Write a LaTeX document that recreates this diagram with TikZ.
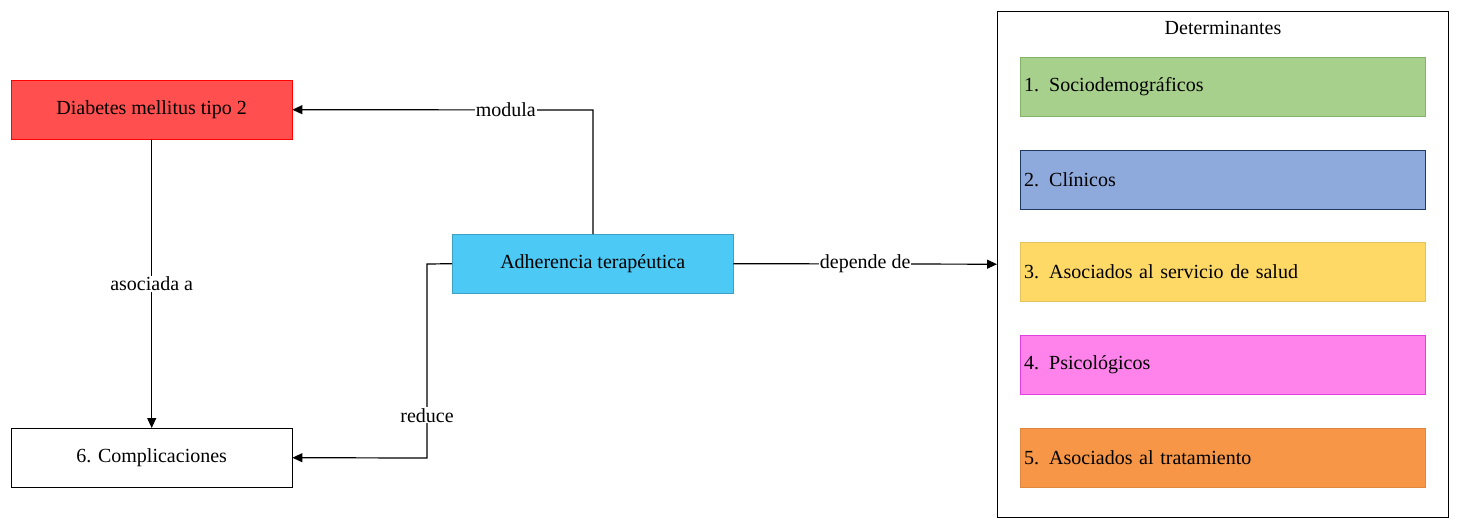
\documentclass[tikz,border=0pt]{standalone}
\usepackage{fontspec}
\setmainfont{Liberation Serif}
\usetikzlibrary{arrows.meta}
\definecolor{cred}{HTML}{FF4F4F}
\definecolor{cblue}{HTML}{4DC9F5}
\definecolor{cgreen}{HTML}{A8D08D}
\definecolor{cgreenb}{HTML}{82B366}
\definecolor{cblu2}{HTML}{8EA9DB}
\definecolor{cblu2b}{HTML}{1F3864}
\definecolor{cyel}{HTML}{FFD966}
\definecolor{cpink}{HTML}{FF83EA}
\definecolor{cpinkb}{HTML}{E040E0}
\definecolor{corg}{HTML}{F79646}
\begin{document}
\begin{tikzpicture}[x=1pt,y=-1pt,font=\fontsize{20}{24}\selectfont,
 box/.style={draw,minimum width=281pt,minimum height=59pt,inner sep=0pt,anchor=north west},
 det/.style={draw,minimum width=405pt,minimum height=59pt,inner sep=0pt,anchor=north west,text width=397pt,align=left},
 arr/.style={-{Triangle[length=10pt,width=9pt]},line width=1.2pt},
 lab/.style={fill=white,inner sep=1pt}]
\useasboundingbox (0,0) rectangle (1459,528);
\node[box,fill=cred,draw=red] (dm) at (11,80) {Diabetes mellitus tipo 2};
\node[box] (comp) at (11,428) {6. Complicaciones};
\node[box,fill=cblue,draw=cblue!80!black] (adh) at (452,234) {Adherencia terapéutica};
\node[draw,minimum width=451pt,minimum height=506pt,anchor=north west,inner sep=0pt] (cont) at (997,11) {};
\node (title) at (1223,28) {Determinantes};
\node[det,fill=cgreen,draw=cgreenb] (d1) at (1020,57) {1. Sociodemográficos};
\node[det,fill=cblu2,draw=cblu2b] (d2) at (1020,150) {2. Clínicos};
\node[det,fill=cyel,draw=cyel!90!black] (d3) at (1020,242) {3. Asociados al servicio de salud};
\node[det,fill=cpink,draw=cpinkb] (d4) at (1020,335) {4. Psicológicos};
\node[det,fill=corg,draw=corg!90!black] (d5) at (1020,428) {5. Asociados al tratamiento};
\coordinate (a1) at (593,110);
\coordinate (a2) at (427,264);
\coordinate (a3) at (427,458);
\draw[arr] (adh.north -| a1) -- (a1) -- node[lab,pos=0.29]{modula} (dm.east);
\draw[arr] (dm.south) -- node[lab,pos=0.5]{asociada a} (comp.north);
\draw[arr] (adh.west) -- (a2) -- node[lab,pos=0.78]{reduce} (a3) -- (comp.east);
\draw[arr] (adh.east) -- node[lab,pos=0.5]{depende de} (cont.west);
\end{tikzpicture}
\end{document}
